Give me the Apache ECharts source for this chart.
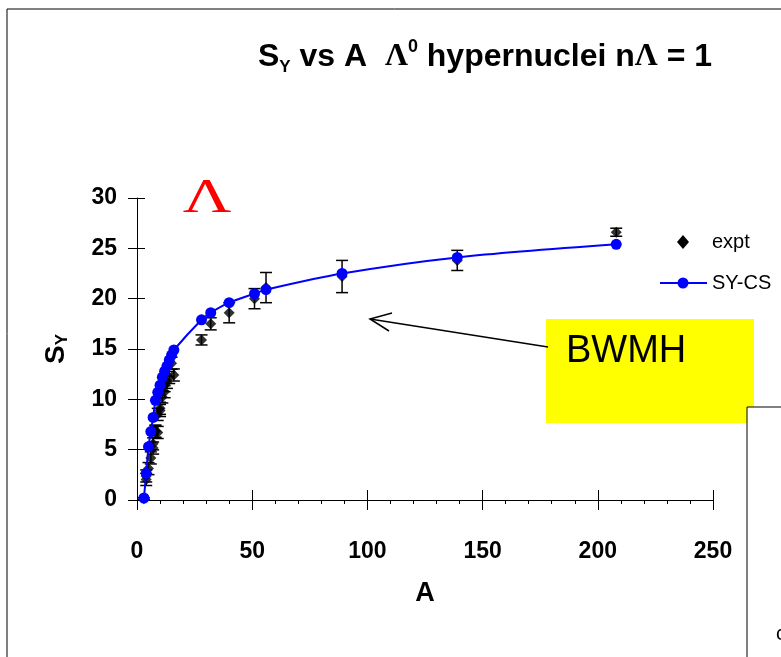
<!DOCTYPE html>
<html>
<head>
<meta charset="utf-8">
<script src="https://cdn.jsdelivr.net/npm/echarts@6/dist/echarts.min.js"></script>
<style>
html, body { margin: 0; padding: 0; background: #fff; }
#chart { width: 781px; height: 657px; }
</style>
</head>
<body>
<div id="chart"></div>
<script>
// experimental Lambda separation energies (A, S_Y, error)
var exptA   = [3, 4, 4, 5, 6, 7, 7, 8, 8, 9, 9, 10, 10, 11, 12, 12, 13, 14, 15, 16, 28, 32, 40, 51, 56, 89, 139, 208];
var exptS   = [0.13, 2.04, 2.39, 3.12, 4.18, 5.58, 5.16, 6.80, 6.84, 8.50, 6.71, 9.11, 8.89, 10.24, 11.37, 10.76, 11.69, 12.17, 13.59, 12.42, 15.9, 17.5, 18.6, 20.0, 21.1, 22.2, 23.8, 26.6];
var exptErr = [0.1, 0.6, 0.6, 0.6, 0.6, 0.6, 0.6, 0.6, 0.6, 0.6, 0.6, 0.6, 0.6, 0.6, 0.6, 0.6, 0.6, 0.6, 0.6, 0.6, 0.5, 0.6, 1.0, 1.0, 1.5, 1.6, 1.0, 0.4];

// SY-CS model curve
var modelA = [3, 4, 5, 6, 7, 8, 9, 10, 11, 12, 13, 14, 15, 16, 28, 32, 40, 51, 56, 89, 139, 208];
var modelS = [0.2, 2.65, 5.3, 6.8, 8.2, 9.9, 10.7, 11.4, 12.2, 12.8, 13.3, 13.9, 14.4, 14.9, 17.9, 18.6, 19.6, 20.5, 20.9, 22.5, 24.1, 25.4];

var xMin = 0, xMax = 250, xStep = 50;
var yMin = 0, yMax = 30, yStep = 5;

var FONT = 'Liberation Sans, Arial, sans-serif';
var SERIF = 'Liberation Serif, Times New Roman, serif';

var exptData = exptA.map(function (a, i) { return [a, exptS[i], exptErr[i]]; });
var modelData = modelA.map(function (a, i) { return [a, modelS[i]]; });

var lblStyle = { color: '#000', fontFamily: FONT, fontWeight: 'bold', fontSize: 23 };

var option = {
    animation: false,
    grid: { left: 137, right: 68, top: 198, bottom: 157, containLabel: false },
    xAxis: [{
        type: 'value', min: xMin, max: xMax, interval: xStep,
        position: 'bottom',
        axisLine: { show: true, onZero: false, lineStyle: { color: '#000', width: 1 } },
        axisTick: { show: true, inside: false, length: 10, lineStyle: { color: '#000' } },
        minorTick: { show: true, splitNumber: 5, length: 4, lineStyle: { color: '#000' } },
        splitLine: { show: false },
        axisLabel: Object.assign({ margin: 40 }, lblStyle),
        name: 'A', nameLocation: 'middle', nameGap: 80,
        nameTextStyle: { color: '#000', fontFamily: FONT, fontWeight: 'bold', fontSize: 27 }
    }, {
        type: 'value', min: xMin, max: xMax, interval: xStep,
        position: 'bottom',
        axisLine: { show: false },
        axisTick: { show: true, inside: true, length: 10, lineStyle: { color: '#000' } },
        splitLine: { show: false },
        axisLabel: { show: false }
    }],
    yAxis: [{
        type: 'value', min: yMin, max: yMax, interval: yStep,
        position: 'left',
        axisLine: { show: true, onZero: false, lineStyle: { color: '#000', width: 1 } },
        axisTick: { show: true, inside: false, length: 9, lineStyle: { color: '#000' } },
        splitLine: { show: false },
        axisLabel: Object.assign({ margin: 20 }, lblStyle),
        name: '{s|S}{y|Y}', nameLocation: 'middle', nameGap: 66, nameRotate: 90,
        nameTextStyle: {
            rich: {
                s: { color: '#000', fontFamily: FONT, fontWeight: 'bold', fontSize: 28, lineHeight: 30 },
                y: { color: '#000', fontFamily: FONT, fontWeight: 'bold', fontSize: 17, lineHeight: 26, verticalAlign: 'bottom' }
            }
        }
    }, {
        type: 'value', min: yMin, max: yMax, interval: yStep,
        position: 'left',
        axisLine: { show: false },
        axisTick: { show: true, inside: true, length: 8, lineStyle: { color: '#000' } },
        splitLine: { show: false },
        axisLabel: { show: false }
    }],
    series: [{
        name: 'err',
        type: 'custom',
        xAxisIndex: 0, yAxisIndex: 0,
        data: exptData,
        renderItem: function (params, api) {
            var a = api.value(0), s = api.value(1), e = api.value(2);
            var hi = api.coord([a, s + e]);
            var lo = api.coord([a, s - e]);
            var w = 6;
            var st = { stroke: '#000', lineWidth: 1.5 };
            return {
                type: 'group',
                children: [
                    { type: 'line', shape: { x1: hi[0], y1: hi[1], x2: lo[0], y2: lo[1] }, style: st },
                    { type: 'line', shape: { x1: hi[0] - w, y1: hi[1], x2: hi[0] + w, y2: hi[1] }, style: st },
                    { type: 'line', shape: { x1: lo[0] - w, y1: lo[1], x2: lo[0] + w, y2: lo[1] }, style: st }
                ]
            };
        },
        z: 2
    }, {
        name: 'expt',
        type: 'scatter',
        data: exptData,
        symbol: 'diamond',
        symbolSize: 11,
        itemStyle: { color: '#000' },
        z: 3
    }, {
        name: 'SY-CS',
        type: 'line',
        data: modelData,
        smooth: 0.3,
        symbol: 'circle',
        symbolSize: 11,
        showSymbol: true,
        lineStyle: { color: '#0000FF', width: 2 },
        itemStyle: { color: '#0000FF' },
        z: 4
    }],
    graphic: [
        // outer slide frame
        { type: 'rect', z: -10, shape: { x: 7, y: 9, width: 800, height: 700 },
          style: { fill: 'none', stroke: '#000', lineWidth: 1 } },
        // title
        { type: 'text', x: 258, y: 57,
          style: {
              text: '{b|S}{sub|Y}{b| vs A  }{g|\u039B}{sup|0}{b| hypernuclei n}{g|\u039B}{b| = 1}',
              align: 'left', verticalAlign: 'middle',
              rich: {
                  b: { fill: '#000', fontFamily: FONT, fontWeight: 'bold', fontSize: 32, lineHeight: 38 },
                  sub: { fill: '#000', fontFamily: FONT, fontWeight: 'bold', fontSize: 17, lineHeight: 27, verticalAlign: 'bottom' },
                  sup: { fill: '#000', fontFamily: FONT, fontWeight: 'bold', fontSize: 18, lineHeight: 23, verticalAlign: 'top' },
                  g: { fill: '#000', fontFamily: SERIF, fontWeight: 'bold', fontSize: 32, lineHeight: 38 }
              }
          } },
        // red Lambda
        { type: 'text', x: 207, y: 199, scaleX: 1.4,
          style: { text: '\u039B', fill: '#FF0000', fontFamily: SERIF, fontSize: 48,
                   align: 'center', verticalAlign: 'middle' } },
        // legend
        { type: 'polygon', shape: { points: [[683, 235], [689, 242], [683, 249], [677, 242]] },
          style: { fill: '#000' } },
        { type: 'text', x: 712, y: 242,
          style: { text: 'expt', fill: '#000', fontFamily: FONT, fontSize: 20, align: 'left', verticalAlign: 'middle' } },
        { type: 'line', shape: { x1: 660, y1: 283, x2: 707, y2: 283 },
          style: { stroke: '#0000FF', lineWidth: 2 } },
        { type: 'circle', shape: { cx: 683, cy: 283, r: 5.5 }, style: { fill: '#0000FF' } },
        { type: 'text', x: 712, y: 283,
          style: { text: 'SY-CS', fill: '#000', fontFamily: FONT, fontSize: 20, align: 'left', verticalAlign: 'middle' } },
        // BWMH callout
        { type: 'rect', z: 10, shape: { x: 546, y: 319, width: 208, height: 104 },
          style: { fill: '#FFFF00' } },
        { type: 'text', z: 11, x: 566, y: 352,
          style: { text: 'BWMH', fill: '#000', fontFamily: FONT, fontSize: 38, align: 'left', verticalAlign: 'middle' } },
        { type: 'polyline', z: 10, shape: { points: [[548, 347], [370, 319]] },
          style: { stroke: '#000', lineWidth: 1.5, fill: 'none' } },
        { type: 'polyline', z: 10, shape: { points: [[392, 313], [370, 319], [389, 331]] },
          style: { stroke: '#000', lineWidth: 1.5, fill: 'none' } },
        // neighbouring box clipped by the slide edge
        { type: 'rect', z: 12, shape: { x: 747, y: 407, width: 100, height: 300 },
          style: { fill: '#fff', stroke: '#000', lineWidth: 1 } },
        { type: 'text', z: 13, x: 776, y: 634,
          style: { text: 'c', fill: '#000', fontFamily: FONT, fontSize: 20, align: 'left', verticalAlign: 'middle' } }
    ]
};

var chart = echarts.init(document.getElementById('chart'), null, { renderer: 'canvas' });
chart.setOption(option);
</script>
</body>
</html>
